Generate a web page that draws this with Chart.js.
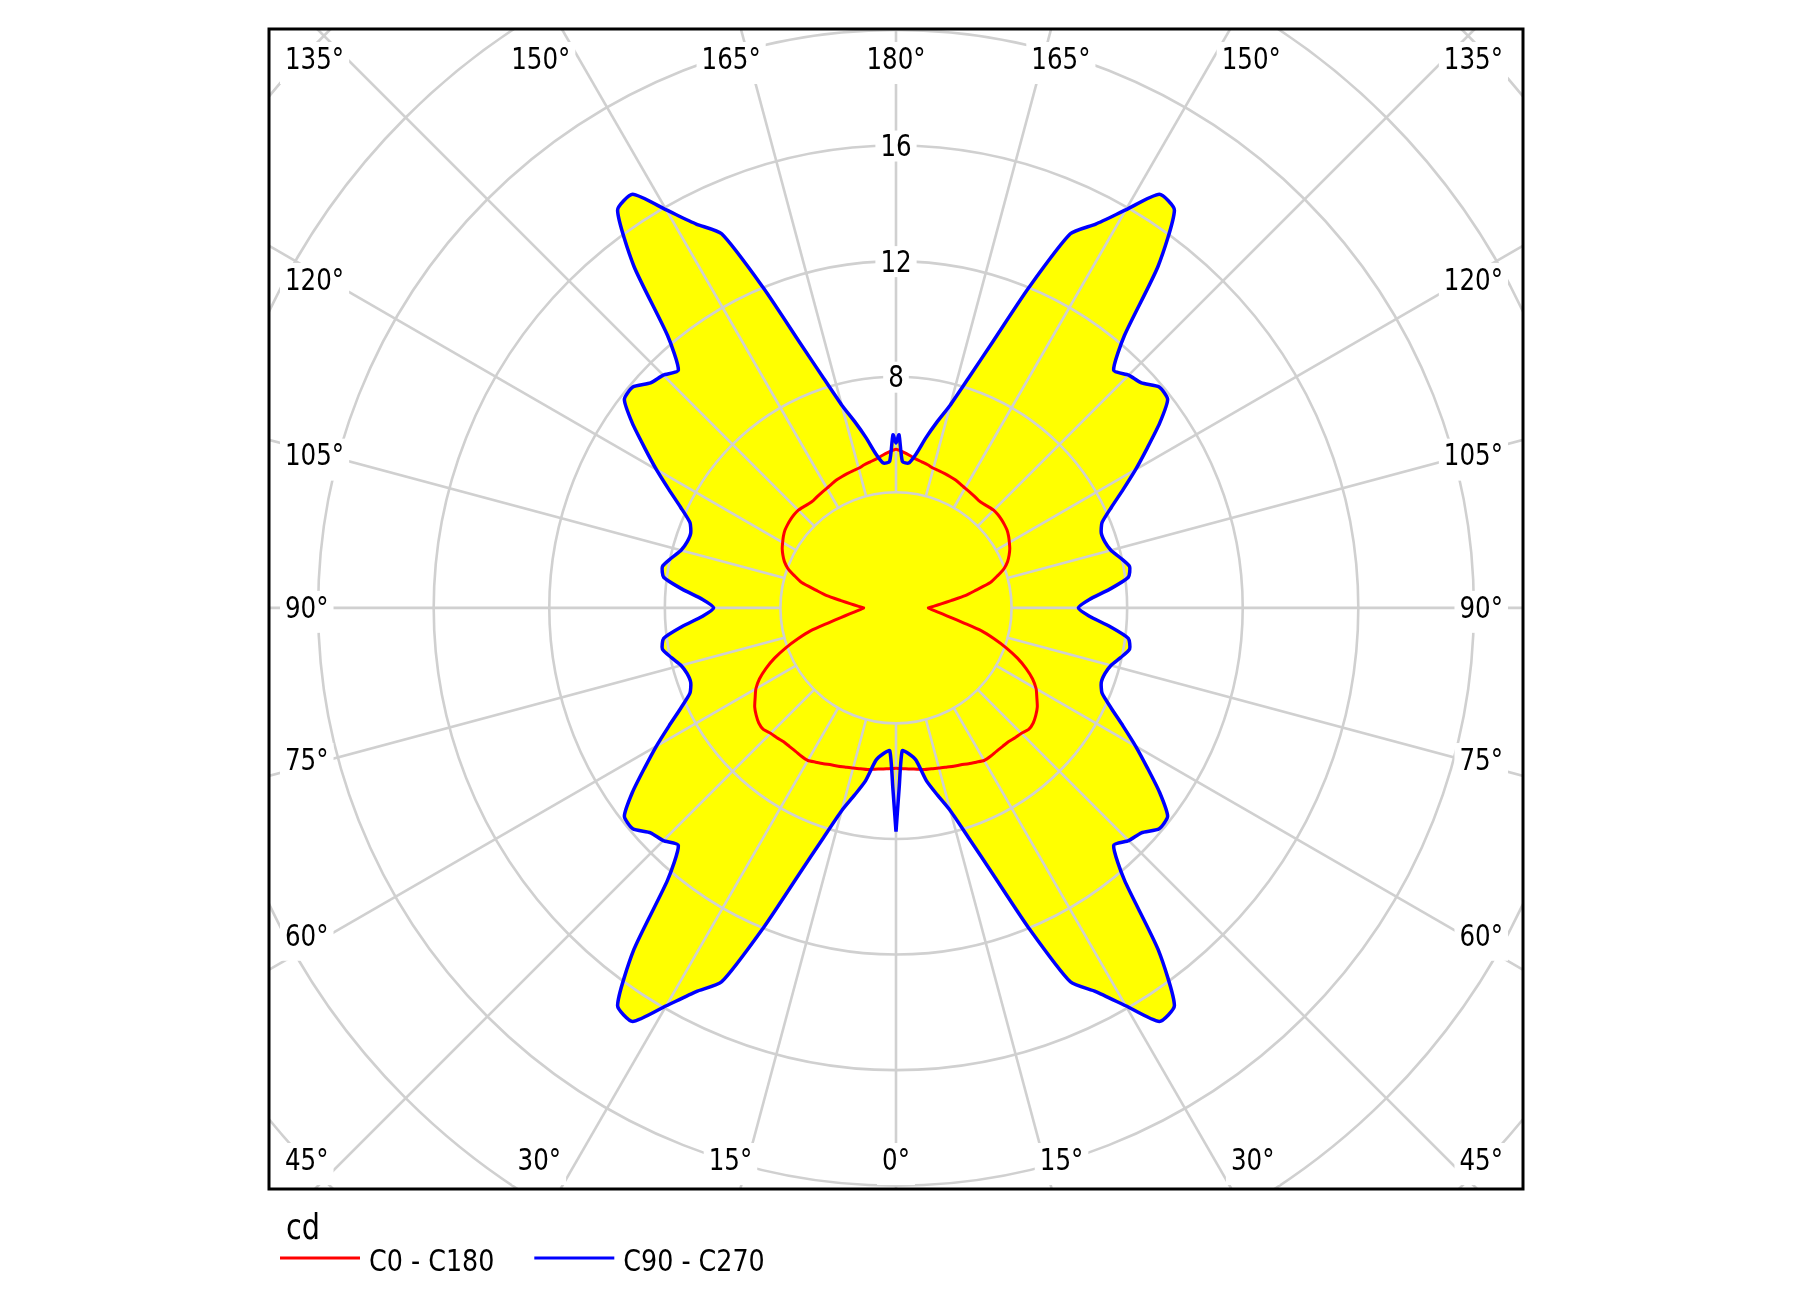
<!DOCTYPE html>
<html>
<head>
<meta charset="utf-8">
<script src="https://cdn.jsdelivr.net/npm/chart.js@4.4.1/dist/chart.umd.min.js"></script>
<style>
html,body{margin:0;padding:0;background:#ffffff;}
#wrap{width:1794px;height:1300px;position:relative;}
</style>
</head>
<body>
<div id="wrap"><canvas id="c"></canvas></div>
<script>
// ---- data (gamma angles in degrees, luminous intensity in cd) ----
const gammaAngles = [0, 1, 2.5, 5, 7.5, 10, 12.5, 15, 17.5, 20, 22.5, 25, 27.5, 30, 32.5, 35, 37.5, 40, 42.5, 45,
  47.5, 50, 52.5, 55, 57.5, 60, 62.5, 65, 67.5, 70, 72.5, 75, 77.5, 80, 82.5, 85, 87.5, 90,
  92.5, 95, 97.5, 100, 102.5, 105, 107.5, 110, 112.5, 115, 117.5, 120, 122.5, 125, 127.5, 130,
  132.5, 135, 137.5, 140, 142.5, 145, 147.5, 150, 152.5, 155, 157.5, 160, 162.5, 165, 167.5, 170,
  172.5, 175, 177.5, 179, 180];

const c0 = [5.55, 5.56, 5.57, 5.60, 5.63, 5.68, 5.70, 5.74, 5.78, 5.83, 5.88, 5.95, 6.02, 6.10, 6.09, 6.06, 6.05, 6.05, 6.10, 6.14,
  6.23, 6.20, 6.10, 5.97, 5.78, 5.60, 5.33, 4.97, 4.55, 4.07, 3.56, 3.05, 2.39, 1.94, 1.62, 1.39, 1.22, 1.12,
  1.32, 1.57, 1.92, 2.43, 2.84, 3.38, 3.68, 3.98, 4.18, 4.32, 4.44, 4.53, 4.62, 4.69, 4.73, 4.76,
  4.78, 4.78, 4.74, 4.70, 4.69, 4.72, 4.75, 4.78, 4.83, 4.88, 4.91, 4.94, 4.97, 5.00, 5.07, 5.13,
  5.20, 5.30, 5.40, 5.46, 5.49];
const c180 = [5.55, 5.56, 5.57, 5.60, 5.63, 5.68, 5.70, 5.74, 5.78, 5.83, 5.88, 5.95, 6.02, 6.10, 6.09, 6.06, 6.05, 6.05, 6.10, 6.14,
  6.23, 6.20, 6.10, 5.97, 5.78, 5.60, 5.33, 4.97, 4.55, 4.07, 3.56, 3.05, 2.39, 1.94, 1.62, 1.39, 1.22, 1.12,
  1.32, 1.57, 1.92, 2.43, 2.84, 3.38, 3.68, 3.98, 4.18, 4.32, 4.44, 4.53, 4.62, 4.69, 4.73, 4.76,
  4.78, 4.78, 4.74, 4.70, 4.69, 4.72, 4.75, 4.78, 4.83, 4.88, 4.91, 4.94, 4.97, 5.00, 5.07, 5.13,
  5.20, 5.30, 5.40, 5.46, 5.49];
const c90 = [7.74, 6.24, 4.95, 5.07, 5.32, 6.08, 6.64, 7.27, 8.33, 9.81, 11.97, 14.28, 14.97, 15.90, 16.97, 16.80, 14.90, 12.30, 11.15, 11.39,
  11.52, 11.89, 11.85, 11.14, 10.32, 9.58, 8.86, 8.22, 7.72, 7.56, 7.58, 7.70, 7.96, 8.21, 8.11, 7.43, 6.70, 6.31,
  6.70, 7.43, 8.11, 8.21, 7.96, 7.70, 7.58, 7.56, 7.72, 8.22, 8.86, 9.58, 10.32, 11.14, 11.85, 11.89,
  11.52, 11.39, 11.15, 12.30, 14.90, 16.80, 16.97, 15.90, 14.97, 14.28, 11.97, 9.81, 8.33, 7.27, 6.60, 5.98,
  5.38, 5.03, 5.07, 5.99, 5.70];
const c270 = [7.74, 6.24, 4.95, 5.07, 5.32, 6.08, 6.64, 7.27, 8.33, 9.81, 11.97, 14.28, 14.97, 15.90, 16.97, 16.80, 14.90, 12.30, 11.15, 11.39,
  11.52, 11.89, 11.85, 11.14, 10.32, 9.58, 8.86, 8.22, 7.72, 7.56, 7.58, 7.70, 7.96, 8.21, 8.11, 7.43, 6.70, 6.31,
  6.70, 7.43, 8.11, 8.21, 7.96, 7.70, 7.58, 7.56, 7.72, 8.22, 8.86, 9.58, 10.32, 11.14, 11.85, 11.89,
  11.52, 11.39, 11.15, 12.30, 14.90, 16.80, 16.97, 15.90, 14.97, 14.28, 11.97, 9.81, 8.33, 7.27, 6.60, 5.98,
  5.38, 5.03, 5.07, 5.99, 5.70];

const angleTicks = [0, 15, 30, 45, 60, 75, 90, 105, 120, 135, 150, 165, 180];
const ringValues = [4, 8, 12, 16, 20, 24, 28];
const ringLabelValues = [8, 12, 16];
const seriesNames = ['C0 - C180', 'C90 - C270'];
const unitLabel = 'cd';

// ---- build polar outline (right half: first plane, left half: opposite plane) ----
function polarOutline(rightVals, leftVals) {
  const pts = [];
  for (let i = 0; i < gammaAngles.length; i++) {
    const g = gammaAngles[i] * Math.PI / 180;
    pts.push({x: rightVals[i] * Math.sin(g), y: -rightVals[i] * Math.cos(g)});
  }
  for (let i = gammaAngles.length - 2; i >= 0; i--) {
    const g = gammaAngles[i] * Math.PI / 180;
    pts.push({x: -leftVals[i] * Math.sin(g), y: -leftVals[i] * Math.cos(g)});
  }
  return pts;
}
const redOutline = polarOutline(c0, c180);
const blueOutline = polarOutline(c90, c270);

const FONT = '"DejaVu Sans Condensed", "DejaVu Sans", sans-serif';
const SQX = 0.91;     // horizontal squeeze of the label font
const TENSION = 0.2;

function textW(ctx, txt) { return ctx.measureText(txt).width * SQX; }
function drawText(ctx, txt, xLeft, y) {
  ctx.save();
  ctx.translate(xLeft, y);
  ctx.scale(SQX, 1);
  ctx.textAlign = 'left';
  ctx.fillText(txt, 0, 0);
  ctx.restore();
}

const polarPlugin = {
  id: 'polarGrid',
  beforeDatasetDraw(chart, args) {
    if (args.index !== 2) return;
    const ctx = chart.ctx, a = chart.chartArea;
    const xs = chart.scales.x, ys = chart.scales.y;
    const cx = xs.getPixelForValue(0), cy = ys.getPixelForValue(0);
    const unit = xs.getPixelForValue(1) - cx;
    ctx.save();
    ctx.beginPath();
    ctx.rect(a.left, a.top, a.right - a.left, a.bottom - a.top);
    ctx.clip();
    ctx.strokeStyle = '#d0d0d0';
    ctx.lineWidth = 2.6;
    for (const v of ringValues) {
      ctx.beginPath();
      ctx.arc(cx, cy, v * unit, 0, Math.PI * 2);
      ctx.stroke();
    }
    const r0 = ringValues[0] * unit, r1 = 60 * unit;
    for (let k = 0; k < 24; k++) {
      const t = k * 15 * Math.PI / 180;
      const ux = Math.sin(t), uy = Math.cos(t);
      ctx.beginPath();
      ctx.moveTo(cx + ux * r0, cy + uy * r0);
      ctx.lineTo(cx + ux * r1, cy + uy * r1);
      ctx.stroke();
    }
    // ring value labels
    ctx.font = '30px ' + FONT;
    ctx.textBaseline = 'middle';
    for (const v of ringLabelValues) {
      const txt = String(v);
      const w = textW(ctx, txt);
      const y = cy - v * unit;
      ctx.fillStyle = '#ffffff';
      ctx.fillRect(cx - w / 2 - 5, y - 15, w + 10, 31);
      ctx.fillStyle = '#000000';
      drawText(ctx, txt, cx - w / 2, y + 3);
    }
    // angle labels
    const L = a.left, R = a.right, T = a.top, B = a.bottom;
    const place = [];
    for (const g of angleTicks) {
      const sides = (g === 0 || g === 180) ? [1] : [1, -1];
      for (const s of sides) place.push({g, s});
    }
    for (const p of place) {
      const t = p.g * Math.PI / 180;
      const ux = p.s * Math.sin(t), uy = Math.cos(t);
      const txt = p.g + '\u00B0';
      const w = textW(ctx, txt);
      let xl, yc;
      if (p.g >= 60 && p.g <= 120) {
        yc = cy + (uy / Math.abs(ux)) * 568;
        xl = ux < 0 ? L + 16 : R - 20 - w;
      } else {
        let dist;
        if (uy < 0) { yc = T + 30; dist = cy - T; } else { yc = B - 29; dist = B - cy; }
        const xc = cx + 1.063 * (ux / Math.abs(uy)) * dist;
        xl = xc - w / 2;
        if (xl < L + 16) xl = L + 16;
        if (xl + w > R - 20) xl = R - 20 - w;
      }
      ctx.fillStyle = '#ffffff';
      ctx.fillRect(xl - 5, yc - 17, w + 10, 42);
      ctx.fillStyle = '#000000';
      drawText(ctx, txt, xl, yc + 2);
    }
    ctx.restore();
  },
  afterDraw(chart) {
    const ctx = chart.ctx, a = chart.chartArea;
    ctx.save();
    ctx.strokeStyle = '#000000';
    ctx.lineWidth = 3;
    ctx.strokeRect(a.left, a.top, a.right - a.left, a.bottom - a.top);
    // legend
    ctx.fillStyle = '#000000';
    ctx.textBaseline = 'alphabetic';
    ctx.font = '35px ' + FONT;
    drawText(ctx, unitLabel, a.left + 17, a.bottom + 50);
    ctx.font = '31px ' + FONT;
    let x = a.left + 11;
    const ly = a.bottom + 69;
    for (const idx of [2, 3]) {
      const ds = chart.data.datasets[idx];
      ctx.strokeStyle = ds.borderColor;
      ctx.lineWidth = 3;
      ctx.beginPath();
      ctx.moveTo(x, ly);
      ctx.lineTo(x + 80, ly);
      ctx.stroke();
      ctx.fillStyle = '#000000';
      drawText(ctx, ds.label, x + 89, ly + 13);
      x = x + 89 + textW(ctx, ds.label) + 40;
    }
    ctx.restore();
  }
};

new Chart(document.getElementById('c'), {
  type: 'scatter',
  data: {
    datasets: [
      {label: 'fill-c90', data: blueOutline, showLine: true, fill: 'shape', backgroundColor: '#ffff00',
        borderColor: 'rgba(0,0,0,0)', borderWidth: 0, pointRadius: 0, tension: TENSION, order: 10},
      {label: 'fill-c0', data: redOutline, showLine: true, fill: 'shape', backgroundColor: '#ffff00',
        borderColor: 'rgba(0,0,0,0)', borderWidth: 0, pointRadius: 0, tension: TENSION, order: 10},
      {label: seriesNames[0], data: redOutline, showLine: true, fill: false, borderColor: '#ff0000',
        borderWidth: 3, pointRadius: 0, tension: TENSION, order: 2},
      {label: seriesNames[1], data: blueOutline, showLine: true, fill: false, borderColor: '#0000ff',
        borderWidth: 3.5, pointRadius: 0, tension: TENSION, order: 1}
    ]
  },
  options: {
    responsive: true,
    maintainAspectRatio: false,
    animation: false,
    layout: {padding: {left: 269, top: 29, right: 271, bottom: 111}},
    scales: {
      x: {type: 'linear', min: -21.70, max: 21.70, display: false},
      y: {type: 'linear', min: -20.11, max: 20.03, display: false}
    },
    plugins: {
      legend: {display: false},
      tooltip: {enabled: false}
    }
  },
  plugins: [polarPlugin]
});
</script>
</body>
</html>
